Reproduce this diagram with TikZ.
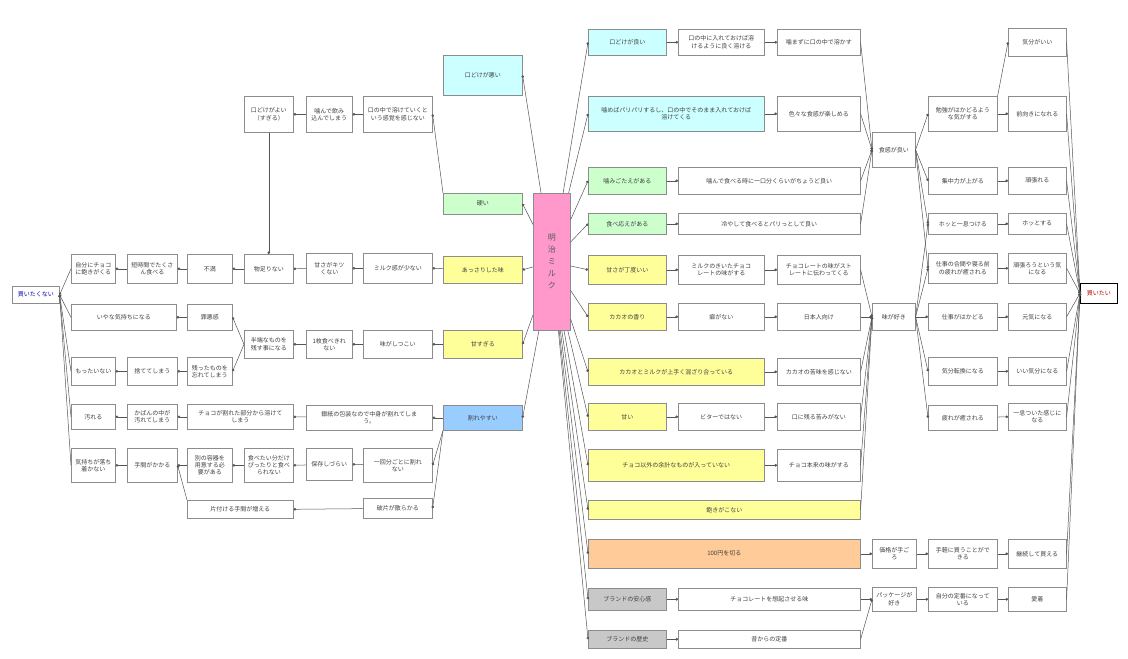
\documentclass[tikz,border=0pt]{standalone}
\usepackage{fontspec}
\newfontfamily\jpfont{Noto Sans CJK JP}
\usepackage{tikz}
\usetikzlibrary{arrows.meta}

\definecolor{boxline}{HTML}{8C8C8C}
\definecolor{linkline}{HTML}{555555}
\definecolor{cyanbox}{HTML}{CCFFFF}
\definecolor{greenbox}{HTML}{CCFFCC}
\definecolor{yellowbox}{HTML}{FFFF99}
\definecolor{bluebox}{HTML}{99CCFF}
\definecolor{pinkbox}{HTML}{FF99CC}
\definecolor{orangebox}{HTML}{FFCC99}
\definecolor{graybox}{HTML}{C8C8C8}

\tikzset{
  item/.style={draw=boxline, fill=white, anchor=north west, align=center, inner sep=1pt,
    line width=0.6pt, text=black!75, font=\jpfont\fontsize{6}{7.2}\selectfont},
  wh/.style 2 args={minimum width=#1pt, minimum height=#2pt},
  link/.style={draw=linkline, line width=0.5pt, -{Circle[length=2.6pt]}},
}

\begin{document}
\begin{tikzpicture}[x=1pt, y=-1pt]
    \useasboundingbox (0,0) rectangle (1128,659);

    % centre
    \node[item, fill=pinkbox, wh={37}{137}, text=black!65, font=\jpfont\fontsize{8}{12}\selectfont] (pink) at (533,193) {明\\治\\ミ\\ル\\ク};

    % left side
    \node[item, wh={47}{17}, text=blue!70!black] (nobuy) at (12,286) {買いたくない};

    \node[item, wh={44}{29}] (a1) at (71,254) {自分にチョコ\\に飽きがくる};
    \node[item, wh={105}{26}] (a2) at (71,304) {いやな気持ちになる};
    \node[item, wh={44}{28}] (a3) at (71,357) {もったいない};
    \node[item, wh={44}{25}] (a4) at (71,404) {汚れる};
    \node[item, wh={44}{34}] (a5) at (71,448) {気持ちが落ち\\着かない};

    \node[item, wh={50}{29}] (b1) at (127,254) {短時間でたくさ\\ん食べる};
    \node[item, wh={50}{28}] (b3) at (127,357) {捨ててしまう};
    \node[item, wh={50}{25}] (b4) at (127,404) {かばんの中が\\汚れてしまう};
    \node[item, wh={50}{34}] (b5) at (127,448) {手間がかかる};

    \node[item, wh={45}{29}] (c1) at (187,254) {不満};
    \node[item, wh={45}{26}] (c2) at (187,304) {罪悪感};
    \node[item, wh={45}{28}] (c3) at (187,357) {残ったものを\\忘れてしまう};
    \node[item, wh={106}{25}] (c4) at (187,404) {チョコが割れた部分から溶けて\\しまう};
    \node[item, wh={45}{34}] (c5) at (187,448) {別の容器を\\用意する必\\要がある};
    \node[item, wh={106}{18}] (c6) at (187,500) {片付ける手間が増える};

    \node[item, wh={49}{36}] (d0) at (244,96) {口どけがよい\\（すぎる）};
    \node[item, wh={49}{29}] (d1) at (244,254) {物足りない};
    \node[item, wh={49}{28}] (d2) at (244,330) {半端なものを\\残す事になる};
    \node[item, wh={49}{34}] (d5) at (244,448) {食べたい分だけ\\ぴったりと食べ\\られない};

    \node[item, wh={46}{36}] (e0) at (306,96) {噛んで飲み\\込んでしまう};
    \node[item, wh={46}{30}] (e1) at (306,253) {甘さがキツ\\くない};
    \node[item, wh={46}{28}] (e2) at (306,330) {1枚食べきれ\\ない};
    \node[item, wh={126}{25}] (e4) at (306,405) {銀紙の包装なので中身が割れてしま\\う。};
    \node[item, wh={46}{32}] (e5) at (306,448) {保存しづらい};

    \node[item, wh={69}{36}] (f0) at (363,96) {口の中で溶けていくと\\いう感覚を感じない};
    \node[item, wh={69}{30}] (f1) at (363,253) {ミルク感が少ない};
    \node[item, wh={69}{28}] (f2) at (363,330) {味がしつこい};
    \node[item, wh={69}{34}] (f5) at (363,448) {一回分ごとに割れ\\ない};
    \node[item, wh={69}{20}] (f6) at (363,498) {破片が散らかる};

    \node[item, fill=cyanbox, wh={79}{40}] (g0) at (443,55) {口どけが悪い};
    \node[item, fill=greenbox, wh={79}{21}] (g1) at (443,193) {硬い};
    \node[item, fill=yellowbox, wh={79}{27}] (g2) at (443,256) {あっさりした味};
    \node[item, fill=yellowbox, wh={79}{28}] (g3) at (443,330) {甘すぎる};
    \node[item, fill=bluebox, wh={79}{25}] (g4) at (443,405) {割れやすい};

    % right side
    \node[item, fill=cyanbox, wh={78}{26}] (h1) at (588,29) {口どけが良い};
    \node[item, fill=cyanbox, wh={176}{35}] (h2) at (588,96) {噛めばパリパリするし、口の中でそのまま入れておけば\\溶けてくる};
    \node[item, fill=greenbox, wh={78}{27}] (h3) at (588,167) {噛みごたえがある};
    \node[item, fill=greenbox, wh={78}{21}] (h4) at (588,213) {食べ応えがある};
    \node[item, fill=yellowbox, wh={78}{29}] (h5) at (588,255) {甘さが丁度いい};
    \node[item, fill=yellowbox, wh={78}{27}] (h6) at (588,303) {カカオの香り};
    \node[item, fill=yellowbox, wh={176}{27}] (h7) at (588,358) {カカオとミルクが上手く混ざり合っている};
    \node[item, fill=yellowbox, wh={78}{27}] (h8) at (588,403) {甘い};
    \node[item, fill=yellowbox, wh={176}{32}] (h9) at (588,449) {チョコ以外の余計なものが入っていない};
    \node[item, fill=yellowbox, wh={272}{19}] (h10) at (588,500) {飽きがこない};
    \node[item, fill=orangebox, wh={272}{29}] (h11) at (588,539) {100円を切る};
    \node[item, fill=graybox, wh={78}{22}] (h12) at (588,588) {ブランドの安心感};
    \node[item, fill=graybox, wh={78}{18}] (h13) at (588,630) {ブランドの歴史};

    \node[item, wh={86}{26}] (i1) at (678,29) {口の中に入れておけば溶\\けるように良く溶ける};
    \node[item, wh={182}{27}] (i3) at (678,167) {噛んで食べる時に一口分くらいがちょうど良い};
    \node[item, wh={182}{21}] (i4) at (678,213) {冷やして食べるとパリっとして良い};
    \node[item, wh={86}{29}] (i5) at (678,255) {ミルクのきいたチョコ\\レートの味がする};
    \node[item, wh={86}{27}] (i6) at (678,303) {癖がない};
    \node[item, wh={86}{27}] (i8) at (678,403) {ビターではない};
    \node[item, wh={182}{22}] (i12) at (678,588) {チョコレートを想起させる味};
    \node[item, wh={182}{18}] (i13) at (678,630) {昔からの定番};

    \node[item, wh={83}{26}] (j1) at (777,29) {噛まずに口の中で溶かす};
    \node[item, wh={83}{35}] (j2) at (777,96) {色々な食感が楽しめる};
    \node[item, wh={83}{29}] (j5) at (777,255) {チョコレートの味がスト\\レートに伝わってくる};
    \node[item, wh={83}{27}] (j6) at (777,303) {日本人向け};
    \node[item, wh={83}{27}] (j7) at (777,358) {カカオの苦味を感じない};
    \node[item, wh={83}{27}] (j8) at (777,403) {口に残る苦みがない};
    \node[item, wh={83}{32}] (j9) at (777,449) {チョコ本来の味がする};

    \node[item, wh={43}{35}] (k1) at (872,132) {食感が良い};
    \node[item, wh={43}{27}] (k2) at (872,303) {味が好き};
    \node[item, wh={44}{29}] (k3) at (872,539) {価格が手ご\\ろ};
    \node[item, wh={44}{24}] (k4) at (872,587) {パッケージが\\好き};

    \node[item, wh={69}{35}] (l1) at (928,96) {勉強がはかどるよう\\な気がする};
    \node[item, wh={69}{27}] (l2) at (928,167) {集中力が上がる};
    \node[item, wh={69}{21}] (l3) at (928,213) {ホッと一息つける};
    \node[item, wh={69}{30}] (l4) at (928,253) {仕事の合間や寝る前\\の疲れが癒される};
    \node[item, wh={69}{27}] (l5) at (928,303) {仕事がはかどる};
    \node[item, wh={69}{28}] (l6) at (928,357) {気分転換になる};
    \node[item, wh={69}{25}] (l7) at (928,405) {疲れが癒される};
    \node[item, wh={69}{29}] (l8) at (928,539) {手軽に買うことがで\\きる};
    \node[item, wh={69}{24}] (l9) at (928,587) {自分の定番になって\\いる};

    \node[item, wh={58}{28}] (m1) at (1008,28) {気分がいい};
    \node[item, wh={58}{35}] (m2) at (1008,96) {前向きになれる};
    \node[item, wh={58}{27}] (m3) at (1008,167) {頑張れる};
    \node[item, wh={58}{21}] (m4) at (1008,213) {ホッとする};
    \node[item, wh={58}{30}] (m5) at (1008,253) {頑張ろうという気\\になる};
    \node[item, wh={58}{27}] (m6) at (1008,303) {元気になる};
    \node[item, wh={58}{28}] (m7) at (1008,357) {いい気分になる};
    \node[item, wh={58}{27}] (m8) at (1008,403) {一息ついた感じに\\なる};
    \node[item, wh={58}{29}] (m9) at (1008,539) {継続して買える};
    \node[item, wh={58}{24}] (m10) at (1008,587) {愛着};

    \node[item, draw=black, wh={37}{20}, text=red!70!black] (buy) at (1080,283) {買いたい};

    % centre to the left
    \draw[link] (pink) -- (g0.east);
    \draw[link] (pink) -- (g1.east);
    \draw[link] (pink) -- (g2.east);
    \draw[link] (pink) -- (g3.east);
    \draw[link] (pink) -- (g4.east);

    \draw[link] (g1.north west) -- (f0.east);
    \draw[link] (f0) -- (e0.east);
    \draw[link] (e0) -- (d0.east);
    \draw[link] (d0) -- (d1.north);

    \draw[link] (g2) -- (f1.east);
    \draw[link] (f1) -- (e1.east);
    \draw[link] (e1) -- (d1.east);
    \draw[link] (d1) -- (c1.east);
    \draw[link] (c1) -- (b1.east);
    \draw[link] (b1) -- (a1.east);

    \draw[link] (g3) -- (f2.east);
    \draw[link] (f2) -- (e2.east);
    \draw[link] (e2) -- (d2.east);
    \draw[link] (d2.west) -- (c2.east);
    \draw[link] (d2.west) -- (c3.east);
    \draw[link] (c2) -- (a2.east);
    \draw[link] (c3) -- (b3.east);
    \draw[link] (b3) -- (a3.east);

    \draw[link] (g4) -- (e4.east);
    \draw[link] (e4) -- (c4.east);
    \draw[link] (c4) -- (b4.east);
    \draw[link] (b4) -- (a4.east);

    \draw[link] (g4.south west) -- (f5.east);
    \draw[link] (f5) -- (e5.east);
    \draw[link] (e5) -- (d5.east);
    \draw[link] (d5) -- (c5.east);
    \draw[link] (c5) -- (b5.east);
    \draw[link] (b5) -- (a5.east);
    \draw[link] (g4.south west) -- (f6.east);
    \draw[link] (f6) -- (c6.east);
    \draw[link] (c6.north west) -- (b5.east);

    \draw[link] (a1.west) -- (nobuy.east);
    \draw[link] (a2.west) -- (nobuy.east);
    \draw[link] (a3.west) -- (nobuy.east);
    \draw[link] (a4.west) -- (nobuy.east);
    \draw[link] (a5.west) -- (nobuy.east);

    % centre to the right
    \draw[link] (pink) -- (h1.west);
    \draw[link] (pink) -- (h2.west);
    \draw[link] (pink) -- (h3.west);
    \draw[link] (pink) -- (h4.west);
    \draw[link] (pink) -- (h5.west);
    \draw[link] (pink) -- (h6.west);
    \draw[link] (pink) -- (h7.west);
    \draw[link] (pink) -- (h8.west);
    \draw[link] (pink) -- (h9.west);
    \draw[link] (pink) -- (h10.west);
    \draw[link] (pink) -- (h11.west);
    \draw[link] (pink) -- (h12.west);
    \draw[link] (pink) -- (h13.west);

    \draw[link] (h1) -- (i1.west);
    \draw[link] (i1) -- (j1.west);
    \draw[link] (h2) -- (j2.west);
    \draw[link] (h3) -- (i3.west);
    \draw[link] (h4) -- (i4.west);
    \draw[link] (h5) -- (i5.west);
    \draw[link] (i5) -- (j5.west);
    \draw[link] (h6) -- (i6.west);
    \draw[link] (i6) -- (j6.west);
    \draw[link] (h7) -- (j7.west);
    \draw[link] (h8) -- (i8.west);
    \draw[link] (i8) -- (j8.west);
    \draw[link] (h9) -- (j9.west);
    \draw[link] (h11) -- (k3.west);
    \draw[link] (h12) -- (i12.west);
    \draw[link] (h13) -- (i13.west);

    \draw[link] (j1.east) -- (k1.west);
    \draw[link] (j2.east) -- (k1.west);
    \draw[link] (i3.east) -- (k1.west);
    \draw[link] (i4.east) -- (k1.west);

    \draw[link] (j5.east) -- (k2.west);
    \draw[link] (j6.east) -- (k2.west);
    \draw[link] (j7.east) -- (k2.west);
    \draw[link] (j8.east) -- (k2.west);
    \draw[link] (j9.east) -- (k2.west);
    \draw[link] (h10.east) -- (k2.west);

    \draw[link] (i12.east) -- (k4.west);
    \draw[link] (i13.east) -- (k4.west);

    \draw[link] (k1.east) -- (l1.west);
    \draw[link] (k1.east) -- (l2.west);
    \draw[link] (k1.east) -- (l3.west);
    \draw[link] (k1.east) -- (l4.west);
    \draw[link] (k2.east) -- (l3.west);
    \draw[link] (k2.east) -- (l4.west);
    \draw[link] (k2.east) -- (l5.west);
    \draw[link] (k2.east) -- (l6.west);
    \draw[link] (k2.east) -- (l7.west);
    \draw[link] (k3) -- (l8.west);
    \draw[link] (k4) -- (l9.west);

    \draw[link] (l1.north east) -- (m1.west);
    \draw[link] (l1) -- (m2.west);
    \draw[link] (l2) -- (m3.west);
    \draw[link] (l3) -- (m4.west);
    \draw[link] (l4) -- (m5.west);
    \draw[link] (l5) -- (m6.west);
    \draw[link] (l6) -- (m7.west);
    \draw[link] (l7) -- (m8.west);
    \draw[link] (l8) -- (m9.west);
    \draw[link] (l9) -- (m10.west);

    \draw[link] (m1.east) -- (buy.west);
    \draw[link] (m2.east) -- (buy.west);
    \draw[link] (m3.east) -- (buy.west);
    \draw[link] (m4.east) -- (buy.west);
    \draw[link] (m5.east) -- (buy.west);
    \draw[link] (m6.east) -- (buy.west);
    \draw[link] (m7.east) -- (buy.west);
    \draw[link] (m8.east) -- (buy.west);
    \draw[link] (m9.east) -- (buy.west);
    \draw[link] (m10.east) -- (buy.west);
\end{tikzpicture}
\end{document}
